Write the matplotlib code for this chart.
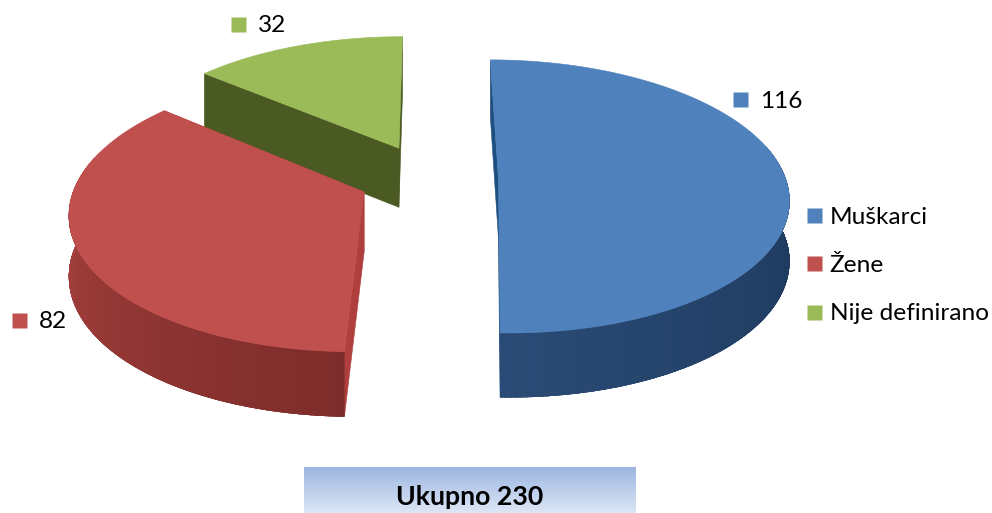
import numpy as np
import matplotlib as mpl
mpl.use("Agg")
from matplotlib import pyplot as plt
from matplotlib.collections import PolyCollection
from matplotlib.lines import Line2D
from matplotlib.patches import Polygon
from matplotlib.colors import LinearSegmentedColormap

plt.rcParams['font.family'] = ['Lato', 'DejaVu Sans']

categories = ["Muškarci", "Žene", "Nije definirano"]
values = [116, 82, 32]
total_label = "Ukupno 230"

top_colors = ["#4F81BD", "#C0504D", "#9BBB59"]
cut_colors = ["#1F4E80", "#AE3F3C", "#4A5A22"]
wall_from = ["#1A3355", "#A6413E", "#5F7430"]
wall_to = ["#2A4B75", "#7C2C2A", "#4A5A22"]

# where each slice is pulled out to, in units of the pie radius
offsets = [(0.005, 0.0), (-0.460, -0.103), (-0.345, 0.229)]
label_pos = [(760, 101), (39, 322), (258, 26)]
marker_pos = [(739.5, 98.5), (18.5, 319.5), (237.5, 23.5)]

# perspective of the pie plane, fitted by eye to the picture (pixels)
VX, VY, H = 430.0, -815.0, 993.0
K, A, X0 = 0.135, 287.0, 67.0
DEPTH = 60.0


def project(x, y, z=0.0):
    w = 1.0 / (1.0 + K * np.asarray(y))
    return VX + (X0 + A * np.asarray(x)) * w, VY + H * w + z * np.sqrt(w)


def face(xs, ys, z=0.0):
    sx, sy = project(np.asarray(xs), np.asarray(ys), z)
    return np.column_stack([sx, sy])


def cut_face(ox, oy, theta):
    xs = [ox, ox + np.sin(theta)]
    ys = [oy, oy + np.cos(theta)]
    upper = face(xs, ys)
    lower = face(xs, ys, DEPTH)
    return np.vstack([upper, lower[::-1]])


fig = plt.figure(figsize=(9.92, 5.13), dpi=100)
ax = fig.add_axes([0, 0, 1, 1])
ax.set_xlim(0, 992)
ax.set_ylim(513, 0)
ax.axis("off")

edges = np.concatenate([[0], np.cumsum(values)]) / np.sum(values) * 2 * np.pi

# back to front: green, blue, red
for i, z in [(2, 2), (0, 3), (1, 4)]:
    t1, t2 = edges[i], edges[i + 1]
    ox, oy = offsets[i]
    th = np.linspace(t1, t2, 200)
    xs, ys = ox + np.sin(th), oy + np.cos(th)

    for t in (t1, t2):
        ax.fill(*cut_face(ox, oy, t).T, color=cut_colors[i], lw=0.4, zorder=z)

    front = np.where(np.cos(th[:-1]) < 0.25)[0]
    if len(front):
        cmap = LinearSegmentedColormap.from_list("w", [wall_from[i], wall_to[i]])
        quads = []
        cols = []
        for j in front:
            a = face(xs[j:j + 2], ys[j:j + 2])
            b = face(xs[j:j + 2], ys[j:j + 2], DEPTH)
            quads.append(np.vstack([a, b[::-1]]))
            # blue runs right to front, red runs front to left
            s = (th[j] - 1.3) / (np.pi - 1.3) if i == 0 else (4.71 - th[j]) / (4.71 - np.pi)
            cols.append(cmap(np.clip(s, 0, 1)))
        f = np.arange(front[0], front[-1] + 2)
        shape = np.vstack([face(xs[f], ys[f]), face(xs[f], ys[f], DEPTH)[::-1]])
        # solid underlay so the thin quads cannot show stripes
        under = Polygon(shape, closed=True, fc=cols[len(cols) // 2], ec="none", zorder=z + 0.005)
        ax.add_patch(under)
        coll = PolyCollection(quads, facecolors=cols, edgecolors=cols, linewidths=1.2,
                              antialiaseds=False, zorder=z + 0.01)
        ax.add_collection(coll)
        coll.set_clip_path(under)

    outline = np.vstack([face([ox], [oy]), face(xs, ys)])
    ax.fill(*outline.T, color=top_colors[i], lw=0.4, zorder=z + 0.02)

# value labels next to their little squares
for v, c, (tx, ty), (mx, my) in zip(values, top_colors, label_pos, marker_pos):
    ax.plot([mx], [my], "s", ms=10.8, mfc=c, mec="none", zorder=6)
    ax.text(tx, ty, str(v), fontsize=17.6, color="black", va="center", ha="left", zorder=6)

handles = [Line2D([], [], ls="none", marker="s", ms=10.8, mfc=c, mec="none") for c in top_colors]
ax.legend(handles, categories, loc="upper left", bbox_to_anchor=(802 / 992, 1 - 206.5 / 513),
          frameon=False, fontsize=17.6, labelspacing=1.11, handlelength=1.0,
          handletextpad=0.13, borderpad=0.0, borderaxespad=0.0)

# total box with vertical gradient
grad = np.linspace(0, 1, 64).reshape(-1, 1)
box_cmap = LinearSegmentedColormap.from_list("box", ["#9DB6E1", "#DCE6F5"])
ax.imshow(grad, extent=(304, 636, 513, 467), cmap=box_cmap, aspect="auto", zorder=5, origin="upper")
ax.set_xlim(0, 992)
ax.set_ylim(513, 0)
ax.text(470, 497, total_label, fontsize=19.2, fontweight="bold", ha="center", va="center", zorder=6)

fig.savefig("out.png", dpi=100)
